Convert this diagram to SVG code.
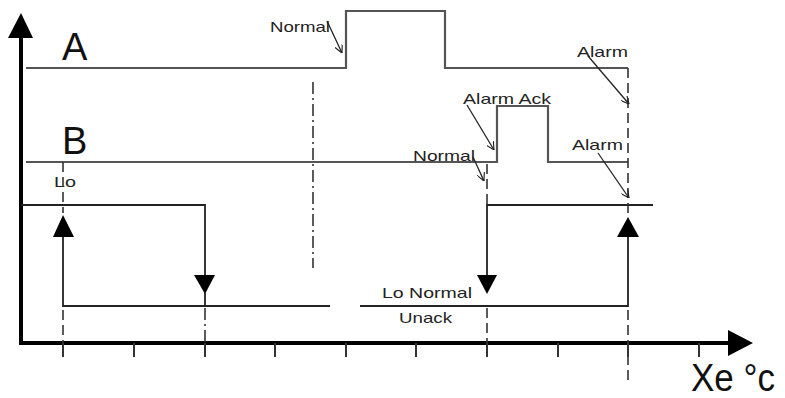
<svg xmlns="http://www.w3.org/2000/svg" width="785" height="398" viewBox="0 0 785 398">
  <defs>
    <marker id="open-v" viewBox="0 0 10 10" refX="10" refY="5" markerWidth="8" markerHeight="8" markerUnits="userSpaceOnUse" orient="auto">
      <path d="M0,0 L10,5 L0,10" fill="none" stroke="#222" stroke-width="1.4"/>
    </marker>
  </defs>
  <style>
    .sig { fill: none; stroke: #555; stroke-width: 2.2; }
    .trk { fill: none; stroke: #222; stroke-width: 1.8; }
    .axis { fill: none; stroke: #000; stroke-width: 4; }
    .tick { stroke: #333; stroke-width: 2; }
    .dash { fill: none; stroke: #333; stroke-width: 1.6; stroke-dasharray: 10 5; }
    .dashdot { fill: none; stroke: #333; stroke-width: 1.6; stroke-dasharray: 12 4 2 4; }
    .lead { fill: none; stroke: #222; stroke-width: 1.3; marker-end: url(#open-v); }
    .head { fill: #000; }
    .big { font-family: "Liberation Sans", Arial, sans-serif; font-size: 38px; fill: #111; }
    .lbl { font-family: "Liberation Sans", Arial, sans-serif; font-size: 15px; fill: #222; }
  </style>

  <!-- axes -->
  <g id="axes">
    <line class="axis" x1="21" y1="345" x2="21" y2="36"/>
    <polygon class="head" points="21,13 8,38 33,38"/>
    <line class="axis" x1="19" y1="343" x2="730" y2="343"/>
    <polygon class="head" points="753,343 728,330 728,356"/>
    <g class="tick">
      <line x1="63" y1="343" x2="63" y2="357"/>
      <line x1="134" y1="343" x2="134" y2="357"/>
      <line x1="205" y1="343" x2="205" y2="357"/>
      <line x1="275" y1="343" x2="275" y2="357"/>
      <line x1="346" y1="343" x2="346" y2="357"/>
      <line x1="416" y1="343" x2="416" y2="357"/>
      <line x1="487" y1="343" x2="487" y2="357"/>
      <line x1="558" y1="343" x2="558" y2="357"/>
      <line x1="628" y1="343" x2="628" y2="357"/>
      <line x1="699" y1="343" x2="699" y2="357"/>
    </g>
    <text class="big" x="691" y="391" textLength="84" lengthAdjust="spacingAndGlyphs">Xe °c</text>
  </g>

  <!-- signal A -->
  <g id="signal-a">
    <text class="big" x="62" y="60">A</text>
    <polyline class="sig" points="26,68 346,68 346,11 445,11 445,68 628,68"/>
  </g>

  <!-- signal B -->
  <g id="signal-b">
    <text class="big" x="62" y="154">B</text>
    <polyline class="sig" points="26,162 497,162 497,106 548,106 548,162 628,162"/>
  </g>

  <!-- hysteresis track -->
  <g id="track">
    <polyline class="trk" points="21,205 205,205 205,278"/>
    <polygon class="head" points="205,294 194,275 215,275"/>
    <line class="trk" x1="205" y1="292" x2="205" y2="306"/>
    <polyline class="trk" points="63,235 63,306 330,306"/>
    <polygon class="head" points="63,215 53,237 74,237"/>
    <polyline class="trk" points="360,306 628,306 628,235"/>
    <polygon class="head" points="628,217 617,237 639,237"/>
    <polyline class="trk" points="653,205 487,205 487,278"/>
    <polygon class="head" points="487,294 477,275 497,275"/>
    <text class="lbl" x="54" y="187" textLength="22" lengthAdjust="spacingAndGlyphs">Lo</text>
    <text class="lbl" x="382" y="298" textLength="90" lengthAdjust="spacingAndGlyphs">Lo Normal</text>
    <text class="lbl" x="399" y="323" textLength="53" lengthAdjust="spacingAndGlyphs">Unack</text>
  </g>

  <!-- guide lines -->
  <g id="guides">
    <line class="dash" x1="63" y1="162" x2="63" y2="213"/>
    <line class="dash" x1="63" y1="310" x2="63" y2="357"/>
    <line class="dashdot" x1="205" y1="308" x2="205" y2="357"/>
    <line class="dashdot" x1="313" y1="82" x2="313" y2="268"/>
    <line class="dash" x1="487" y1="164" x2="487" y2="205"/>
    <line class="dash" x1="487" y1="308" x2="487" y2="357"/>
    <line class="dash" x1="628" y1="68" x2="628" y2="217"/>
    <line class="dash" x1="628" y1="310" x2="628" y2="382"/>
  </g>

  <!-- event labels with leader arrows -->
  <g id="events">
    <text class="lbl" x="270" y="32" textLength="60" lengthAdjust="spacingAndGlyphs">Normal</text>
    <line class="lead" x1="327" y1="21" x2="342" y2="53"/>
    <text class="lbl" x="577" y="57" textLength="51" lengthAdjust="spacingAndGlyphs">Alarm</text>
    <line class="lead" x1="588" y1="56" x2="629" y2="104"/>
    <text class="lbl" x="463" y="104" textLength="88" lengthAdjust="spacingAndGlyphs">Alarm Ack</text>
    <line class="lead" x1="467" y1="105" x2="494" y2="150"/>
    <text class="lbl" x="413" y="161" textLength="62" lengthAdjust="spacingAndGlyphs">Normal</text>
    <line class="lead" x1="473" y1="157" x2="484" y2="181"/>
    <text class="lbl" x="572" y="150" textLength="51" lengthAdjust="spacingAndGlyphs">Alarm</text>
    <line class="lead" x1="598" y1="153" x2="629" y2="198"/>
  </g>
</svg>
